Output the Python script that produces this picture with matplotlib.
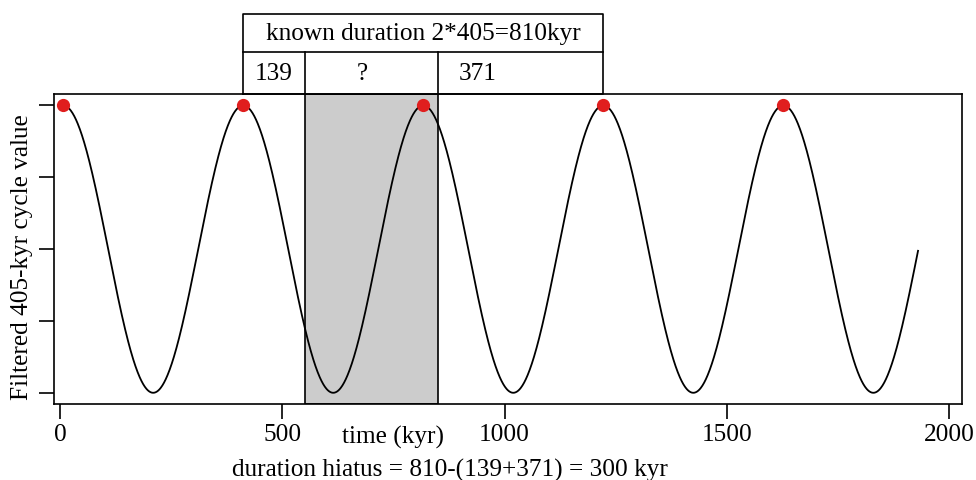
import numpy as np
import matplotlib as mpl

mpl.use('Agg')
import matplotlib.pyplot as plt
import matplotlib.transforms as mtransforms

# data (kyr)
period = 405
peaks = [7, 412, 817, 1222, 1627]
t_end = 1930
before_gap = 139
after_gap = 371
known = 2 * period
x_ticks = [0, 500, 1000, 1500, 2000]
y_ticks = [-1, -0.5, 0, 0.5, 1]

plt.rcParams['font.family'] = ['Liberation Serif', 'DejaVu Serif']
plt.rcParams['font.size'] = 18.2

fig = plt.figure(figsize=(9.76, 4.81), dpi=100)
ax = fig.add_axes([0.0556, 0.1574, 0.9301, 0.6451])

# filtered 405-kyr cycle
t = np.linspace(peaks[0], t_end, 2000)
y = np.cos(2 * np.pi * (t - peaks[0]) / period)

p_a = peaks[1]
p_b = p_a + known
gap_a = p_a + before_gap
gap_b = p_b - after_gap

# hiatus
ax.axvspan(gap_a, gap_b, ymin=0, ymax=1, facecolor='#cccccc',
           edgecolor='black', lw=1.2, zorder=1)
ax.plot(t, y, color='black', lw=1.3, zorder=2)
ax.plot(peaks, np.ones(len(peaks)), 'o', color='#e01e1e', ms=9.5,
        mec='none', zorder=3)

# table above the plot
tr = mtransforms.blended_transform_factory(ax.transData, ax.transAxes)
r1, r2, r3 = 1.0, 1.1354, 1.2578
kw = dict(color='black', lw=1.2, transform=tr, clip_on=False)
ax.plot([p_a, p_b, p_b, p_a, p_a], [r1, r1, r3, r3, r1], **kw)
ax.plot([p_a, p_b], [r2, r2], **kw)
ax.plot([gap_a, gap_a], [r1, r2], **kw)
ax.plot([gap_b, gap_b], [r1, r2], **kw)
ax.text((p_a + p_b) / 2, (r2 + r3) / 2, 'known duration 2*405=810kyr',
        transform=tr, ha='center', va='center')
ax.text((p_a + gap_a) / 2, (r1 + r2) / 2, str(before_gap), transform=tr,
        ha='center', va='center')
ax.text(681, (r1 + r2) / 2, '?', transform=tr, ha='center', va='center')
ax.text(940, (r1 + r2) / 2, str(after_gap), transform=tr,
        ha='center', va='center')

# axes
ax.set_xlim(-13, 2029)
ax.set_ylim(-1.08, 1.08)
ax.set_xticks(x_ticks)
ax.set_yticks(y_ticks)
ax.set_yticklabels([])
ax.tick_params(axis='both', direction='out', length=10.5, width=1.2, pad=3)
for s in ax.spines.values():
    s.set_linewidth(1.2)

ax.text(750, -0.105, 'time (kyr)', transform=tr, ha='center', va='center')
fig.text(450 / 976, 1 - 470 / 481,
         'duration hiatus = 810-(139+371) = 300 kyr', ha='center', va='center')
fig.text(22 / 976, 1 - 257 / 481, 'Filtered 405-kyr cycle value',
         rotation=90, ha='center', va='center')

fig.savefig('out.png', dpi=100)
plt.close(fig)
